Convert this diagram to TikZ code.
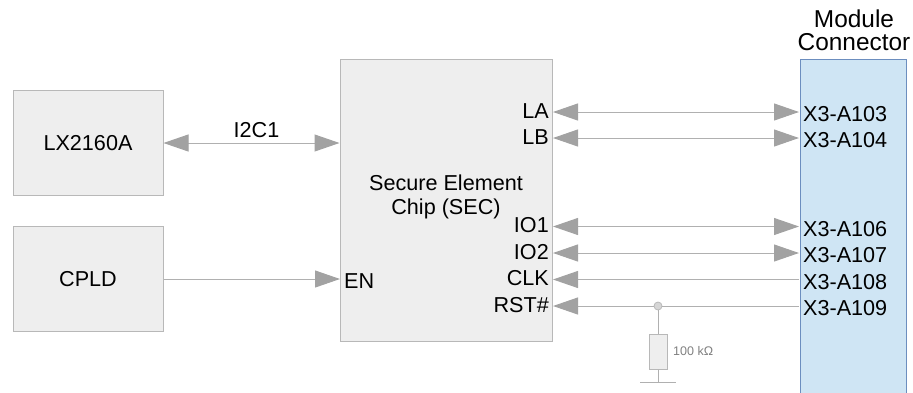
\documentclass[tikz,border=0pt]{standalone}
\usepackage{fontspec}
\setmainfont{Liberation Sans}
\usetikzlibrary{arrows.meta}
\definecolor{boxgray}{HTML}{EEEEEE}
\definecolor{boxline}{HTML}{B8B8B8}
\definecolor{conblue}{HTML}{CFE5F4}
\definecolor{conline}{HTML}{6C8EBF}
\definecolor{sigline}{HTML}{B0B0B0}
\definecolor{sighead}{HTML}{A2A2A2}
\tikzset{
	blockbox/.style={draw=boxline,fill=boxgray,line width=1pt,inner sep=0pt,align=center},
	txt/.style={font=\fontsize{21.6}{25}\selectfont},
	pinleft/.style={txt,anchor=east,inner xsep=4pt,inner ysep=0pt,text height=15.5pt,text depth=3pt},
	pinright/.style={txt,anchor=west,inner xsep=4pt,inner ysep=0pt,text height=19pt,text depth=0pt},
	sig/.style={draw=sigline,line width=1pt},
}
\begin{document}
\begin{tikzpicture}[x=1pt,y=-1pt]
	\useasboundingbox (0,0) rectangle (913,392);
	% Blocks
	\node[blockbox,txt,minimum width=150pt,minimum height=105pt] (lx2160a) at (88,143) {LX2160A};
	\node[blockbox,txt,minimum width=150pt,minimum height=105pt] (cpld) at (88,279) {CPLD};
	\node[blockbox,minimum width=212pt,minimum height=282pt] (sec) at (446,200) {};
	\node[txt,align=center] (sectext) at (446,197) {Secure Element\\[-1pt]Chip (SEC)};
	\node[draw=conline,fill=conblue,line width=1pt,minimum width=106pt,minimum height=340pt,inner sep=0pt] (con) at (853,229) {};
	\node[font=\fontsize{24.4}{23}\selectfont,align=center] (contitle) at (854,30.5) {Module\\Connector};
	% Pin labels
	\node[pinleft] (la) at (553,112) {LA};
	\node[pinleft] (lb) at (553,138) {LB};
	\node[pinleft] (io1) at (553,226.5) {IO1};
	\node[pinleft] (io2) at (553,253) {IO2};
	\node[pinleft] (clk) at (553,279.5) {CLK};
	\node[pinleft] (rst) at (553,306) {RST\#};
	\node[pinright] (en) at (340,279) {EN};
	\node[pinright] (x3a103) at (799,112) {X3-A103};
	\node[pinright] (x3a104) at (799,138) {X3-A104};
	\node[pinright] (x3a106) at (799,226.5) {X3-A106};
	\node[pinright] (x3a107) at (799,253) {X3-A107};
	\node[pinright] (x3a108) at (799,279.5) {X3-A108};
	\node[pinright] (x3a109) at (799,306) {X3-A109};
	% Signals
	\draw[sig,{Triangle[length=25pt,width=17pt,color=sighead]}-{Triangle[length=25pt,width=17pt,color=sighead]}] (lx2160a.east) -- (lx2160a.east -| sec.west) node[midway,above=5pt,xshift=5pt,txt,inner sep=0pt,text depth=0pt] (i2c1) {I2C1};
	\draw[sig,-{Triangle[length=25pt,width=17pt,color=sighead]}] (cpld.east) -- (en.west);
	\foreach \a/\b in {la/x3a103,lb/x3a104,io1/x3a106,io2/x3a107}
		\draw[sig,{Triangle[length=25pt,width=17pt,color=sighead]}-{Triangle[length=25pt,width=17pt,color=sighead]}] (\a.east) -- (\b.west);
	\draw[sig,-{Triangle[length=25pt,width=17pt,color=sighead]}] (x3a108.west) -- (clk.east);
	% Pull-down
	\node[circle,draw=boxline,fill=boxgray!90!black,line width=.8pt,minimum size=8pt,inner sep=0pt] (junction) at (658,306) {};
	\node[blockbox,minimum width=18pt,minimum height=35pt] (res) at (658,351.5) {};
	\node[right=0pt,font=\fontsize{12.5}{14}\selectfont,text=black!50,inner xsep=0pt] (resval) at (673,351.5) {100 kΩ};
	\coordinate (gnd) at (658,382);
	\draw[sig,-{Triangle[length=25pt,width=17pt,color=sighead]}] (x3a109.west) -- (junction) -- (rst.east);
	\draw[sig] (junction) -- (res.north);
	\draw[sig] (res.south) -- (gnd);
	\draw[sig] ([xshift=-18pt]gnd) -- ([xshift=18pt]gnd);
\end{tikzpicture}
\end{document}
